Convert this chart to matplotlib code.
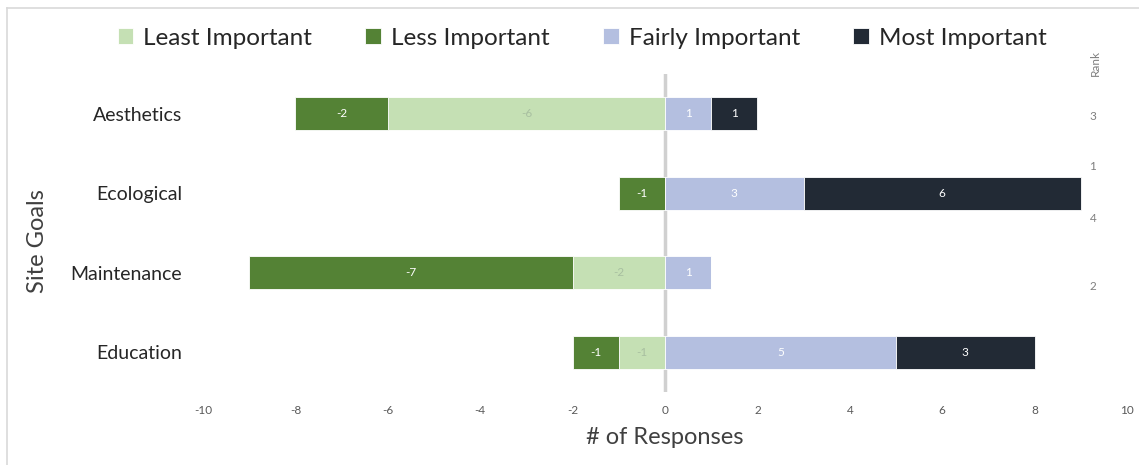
import matplotlib
matplotlib.use("Agg")
import matplotlib.pyplot as plt
from matplotlib.lines import Line2D
import numpy as np

plt.rcParams['font.family'] = ['Lato', 'DejaVu Sans']

categories = ["Aesthetics", "Ecological", "Maintenance", "Education"]
least_important = [-6, 0, -2, -1]
less_important = [-2, -1, -7, -1]
fairly_important = [1, 3, 1, 5]
most_important = [1, 6, 0, 3]
ranks = [3, 1, 4, 2]
xticks = [-10, -8, -6, -4, -2, 0, 2, 4, 6, 8, 10]

c_least = "#C5E0B4"
c_less = "#548235"
c_fairly = "#B4BFE0"
c_most = "#222A35"

fig = plt.figure(figsize=(11.39, 4.65), dpi=100)
ax = fig.add_axes([203/1139, (465-392)/465, (1127-203)/1139, (392-74)/465])

y = np.arange(len(categories))[::-1]
h = 0.41
least = np.array(least_important)
less = np.array(less_important)
fair = np.array(fairly_important)
most = np.array(most_important)

b1 = ax.barh(y, least, height=h, color=c_least, edgecolor="white", linewidth=0.6, label="Least Important")
b2 = ax.barh(y, less, left=least, height=h, color=c_less, edgecolor="white", linewidth=0.6, label="Less Important")
b3 = ax.barh(y, fair, height=h, color=c_fairly, edgecolor="white", linewidth=0.6, label="Fairly Important")
b4 = ax.barh(y, most, left=fair, height=h, color=c_most, edgecolor="white", linewidth=0.6, label="Most Important")

def label(vals, lefts, color):
    for yy, v, l in zip(y, vals, lefts):
        if v == 0:
            continue
        ax.text(l + v/2, yy, f"{v}", ha="center", va="center", fontsize=8.5, color=color)

label(least, np.zeros(4), "#A8BFA0")
label(less, least, "white")
label(fair, np.zeros(4), "white")
label(most, fair, "white")

ax.axvline(0, color="#D0D0D0", linewidth=2.5, zorder=0.5)
ax.set_xlim(-10, 10)
ax.set_ylim(-0.5, 3.5)
ax.set_xticks(xticks)
ax.set_xticklabels([str(t) for t in xticks], fontsize=8.5, color="#595959")
ax.set_yticks(y)
ax.set_yticklabels(categories, fontsize=14, color="#262626")
ax.tick_params(axis="both", length=0)
ax.tick_params(axis="x", pad=9)
ax.tick_params(axis="y", pad=15)
for s in ax.spines.values():
    s.set_visible(False)

ax.set_xlabel("# of Responses", fontsize=17, color="#404040", labelpad=8)
fig.text(38/1139, 1 - 241/465, "Site Goals", rotation=90, ha="center", va="center",
         fontsize=17, color="#404040")

# Rank annotations
fig.text(1095/1139, 1 - 63/465, "Rank", rotation=90, ha="center", va="center", fontsize=8.5, color="#7F7F7F")
rank_y = [116, 167, 218, 286]
for r, py in zip(ranks, rank_y):
    fig.text(1093/1139, 1 - py/465, str(r), ha="center", va="center", fontsize=8.5, color="#7F7F7F")

handles = [b1, b2, b3, b4]
fig.legend(handles, [hh.get_label() for hh in handles], loc="center", bbox_to_anchor=(582/1139, 1 - 38/465),
           ncol=4, frameon=False, fontsize=17.5, handlelength=0.65, handleheight=0.65,
           handletextpad=0.4, columnspacing=2.2, labelcolor="#262626")

# chart border
fig.add_artist(Line2D([7/1139, 7/1139], [0, 1 - 8/465], color="#D9D9D9", linewidth=1.2, transform=fig.transFigure))
fig.add_artist(Line2D([7/1139, 1], [1 - 8/465, 1 - 8/465], color="#D9D9D9", linewidth=1.2, transform=fig.transFigure))

fig.savefig("out.png", dpi=100)
